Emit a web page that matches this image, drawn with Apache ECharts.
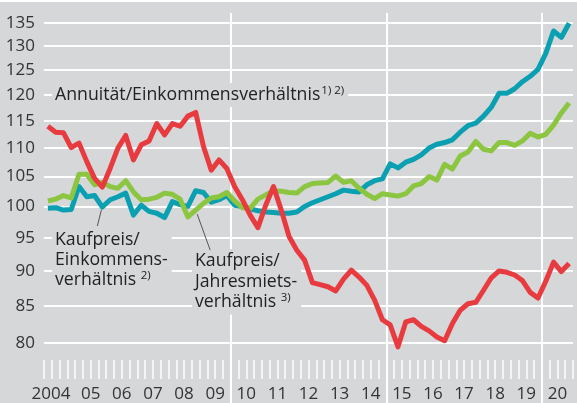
<!DOCTYPE html>
<html>
<head>
<meta charset="utf-8">
<script src="https://cdn.jsdelivr.net/npm/echarts@6/dist/echarts.min.js"></script>
<style>
html, body { margin: 0; padding: 0; background: #d6d7d9; }
#main { width: 577px; height: 403px; }
#topline { position: absolute; left: 0; top: 0; width: 577px; height: 2px; background: #fff; }
</style>
</head>
<body>
<div id="main"></div>
<div id="topline"></div>
<script>
// Jahre und Quartale
var years = ['2004', '2005', '2006', '2007', '2008', '2009', '2010', '2011', '2012',
             '2013', '2014', '2015', '2016', '2017', '2018', '2019', '2020'];
var yearLabels = ['2004', '05', '06', '07', '08', '09', '10', '11', '12',
                  '13', '14', '15', '16', '17', '18', '19', '20'];
var quarters = [];
years.forEach(function (y) {
    ['Q1', 'Q2', 'Q3', 'Q4'].forEach(function (q) { quarters.push(y + q); });
});

var yTicks = [80, 85, 90, 95, 100, 105, 110, 115, 120, 125, 130, 135];

// Annuität/Einkommensverhältnis
var annuitaet = [114.0, 112.9, 112.8, 110.1, 110.9, 107.6, 104.7, 103.2, 106.4, 110.0,
                 112.3, 107.9, 110.6, 111.3, 114.5, 112.4, 114.5, 114.0, 115.9, 116.6,
                 110.3, 106.1, 107.9, 106.4, 103.3, 101.1, 98.6, 96.6, 100.2, 103.3,
                 99.4, 95.2, 93.1, 91.6, 88.3, 88.0, 87.7, 87.1, 88.8, 90.1,
                 89.1, 87.9, 85.8, 83.1, 82.4, 79.5, 82.8, 83.1, 82.2, 81.6,
                 80.8, 80.3, 82.6, 84.4, 85.3, 85.5, 87.2, 89.0, 90.0, 89.8,
                 89.4, 88.6, 86.9, 86.1, 88.5, 91.3, 89.9, 91.1];
// Kaufpreis/Einkommensverhältnis
var kpEinkommen = [99.7, 99.8, 99.4, 99.5, 103.3, 101.6, 101.8, 99.9, 101.1, 101.6,
                   102.2, 98.6, 100.2, 99.2, 98.9, 98.2, 100.8, 100.3, 100.0, 102.6,
                   102.3, 100.7, 101.1, 101.8, 100.2, 100.0, 99.6, 99.3, 99.1, 99.0,
                   98.9, 98.9, 99.1, 100.0, 100.6, 101.1, 101.6, 102.1, 102.7, 102.5,
                   102.4, 103.6, 104.3, 104.6, 107.2, 106.5, 107.5, 108.0, 108.8, 110.0,
                   110.7, 111.0, 111.5, 112.9, 114.1, 114.6, 115.9, 117.6, 120.3, 120.3,
                   121.2, 122.6, 123.7, 125.1, 128.4, 133.2, 131.8, 134.9];
// Kaufpreis/Jahresmietsverhältnis
var kpMiete = [100.9, 101.2, 101.8, 101.4, 105.4, 105.4, 103.6, 104.0, 103.3, 103.0,
               104.3, 102.4, 101.1, 101.2, 101.5, 102.2, 102.0, 101.2, 98.3, 99.4,
               100.5, 101.4, 101.6, 102.3, 100.9, 99.8, 99.7, 101.2, 101.9, 102.6,
               102.5, 102.3, 102.2, 103.3, 103.8, 103.9, 104.0, 105.1, 104.0, 104.3,
               103.0, 102.0, 101.3, 102.1, 101.9, 101.7, 102.1, 103.4, 103.8, 105.0,
               104.4, 107.1, 106.3, 108.6, 109.3, 111.2, 109.8, 109.5, 111.0, 111.0,
               110.5, 111.3, 112.7, 112.0, 112.5, 114.2, 116.5, 118.4];

var bg = '#d6d7d9';
var txt = '#222';
var font = '"Open Sans", "Noto Sans", sans-serif';

var myChart = echarts.init(document.getElementById('main'));

var option = {
    backgroundColor: bg,
    animation: false,
    textStyle: { fontFamily: font },
    grid: { left: 44, right: 4, top: 13, bottom: 0 },
    xAxis: [{
        type: 'category',
        data: quarters,
        boundaryGap: true,
        position: 'bottom',
        offset: -24,
        axisLine: { show: false },
        axisTick: { show: true, interval: 0, inside: true, length: 19, lineStyle: { color: '#fff', width: 1.5 } },
        axisLabel: { show: false },
        splitLine: {
            show: true,
            interval: function (i) { return i % 20 === 4; },
            showMinLine: false,
            showMaxLine: false,
            lineStyle: { color: '#fff', width: 2 }
        }
    }, {
        type: 'category',
        data: yearLabels,
        boundaryGap: true,
        position: 'bottom',
        offset: -24,
        axisLine: { show: false },
        axisTick: { show: false },
        splitLine: { show: false },
        axisLabel: {
            interval: 0, color: '#333', fontSize: 17, margin: 7,
            formatter: function (v, i) { return i === 0 ? '{f|' + v + '}' : v; },
            rich: { f: { padding: [0, 17, 0, 0], fontSize: 17, color: '#333' } }
        }
    }],
    yAxis: {
        type: 'log',
        logBase: 10,
        min: 72.53,
        max: 137.17,
        axisLine: { show: false },
        axisTick: { show: false, customValues: yTicks },
        axisLabel: { customValues: yTicks, color: '#333', fontSize: 17, margin: 9 },
        splitLine: { show: true, lineStyle: { color: '#fff', width: 2 } }
    },
    series: [{
        name: 'Kaufpreis/Einkommensverhältnis',
        type: 'line', z: 3, symbol: 'none',
        data: kpEinkommen,
        lineStyle: { color: '#0a9fb1', width: 5, join: 'round' }
    }, {
        name: 'Kaufpreis/Jahresmietsverhältnis',
        type: 'line', z: 4, symbol: 'none',
        data: kpMiete,
        lineStyle: { color: '#8cc641', width: 5, join: 'round' }
    }, {
        name: 'Annuität/Einkommensverhältnis',
        type: 'line', z: 5, symbol: 'none',
        data: annuitaet,
        lineStyle: { color: '#e73b40', width: 5, join: 'round' }
    }],
    graphic: [{
        type: 'text', id: 'lab1', left: 52, top: 83, z: 1,
        style: {
            text: '{a|Annuität/Einkommensverhältnis}{s|1) 2)}',
            backgroundColor: bg, padding: [2, 4, 2, 3],
            rich: {
                a: { fill: txt, fontSize: 17.7, fontFamily: font, lineHeight: 20 },
                s: { fill: txt, fontSize: 11.5, fontFamily: font, lineHeight: 20, verticalAlign: 'top', padding: [0, 0, 0, 1] }
            }
        }
    }, {
        type: 'text', id: 'lab2', left: 52, top: 228, z: 1,
        style: {
            text: '{a|Kaufpreis/}\n{a|Einkommens-}\n{a|verhältnis }{s|2)}',
            backgroundColor: bg, padding: [2, 4, 2, 3],
            rich: {
                a: { fill: txt, fontSize: 17.7, fontFamily: font, lineHeight: 20 },
                s: { fill: txt, fontSize: 11.5, fontFamily: font, lineHeight: 20, verticalAlign: 'top' }
            }
        }
    }, {
        type: 'text', id: 'lab3', left: 192, top: 249, z: 1,
        style: {
            text: '{a|Kaufpreis/}\n{a|Jahresmiets-}\n{a|verhältnis }{s|3)}',
            backgroundColor: bg, padding: [2, 4, 2, 3],
            rich: {
                a: { fill: txt, fontSize: 17.7, fontFamily: font, lineHeight: 20.5 },
                s: { fill: txt, fontSize: 11.5, fontFamily: font, lineHeight: 20.5, verticalAlign: 'top' }
            }
        }
    }]
};

myChart.setOption(option);

// Hinweislinien zu den Kurven
var p2 = myChart.convertToPixel({ xAxisIndex: 0, yAxisIndex: 0 }, [quarters[7], kpEinkommen[7]]);
var p3 = myChart.convertToPixel({ xAxisIndex: 0, yAxisIndex: 0 }, [quarters[19], kpMiete[19]]);
myChart.setOption({
    graphic: [{
        type: 'line', id: 'lead2', z: 1,
        shape: { x1: p2[0] - 1, y1: p2[1] + 3, x2: p2[0] - 5, y2: p2[1] + 19 },
        style: { stroke: '#555', lineWidth: 1 }
    }, {
        type: 'line', id: 'lead3', z: 1,
        shape: { x1: p3[0] + 1.5, y1: p3[1] + 4, x2: p3[0] + 14.5, y2: p3[1] + 40 },
        style: { stroke: '#555', lineWidth: 1 }
    }]
});
</script>
</body>
</html>
